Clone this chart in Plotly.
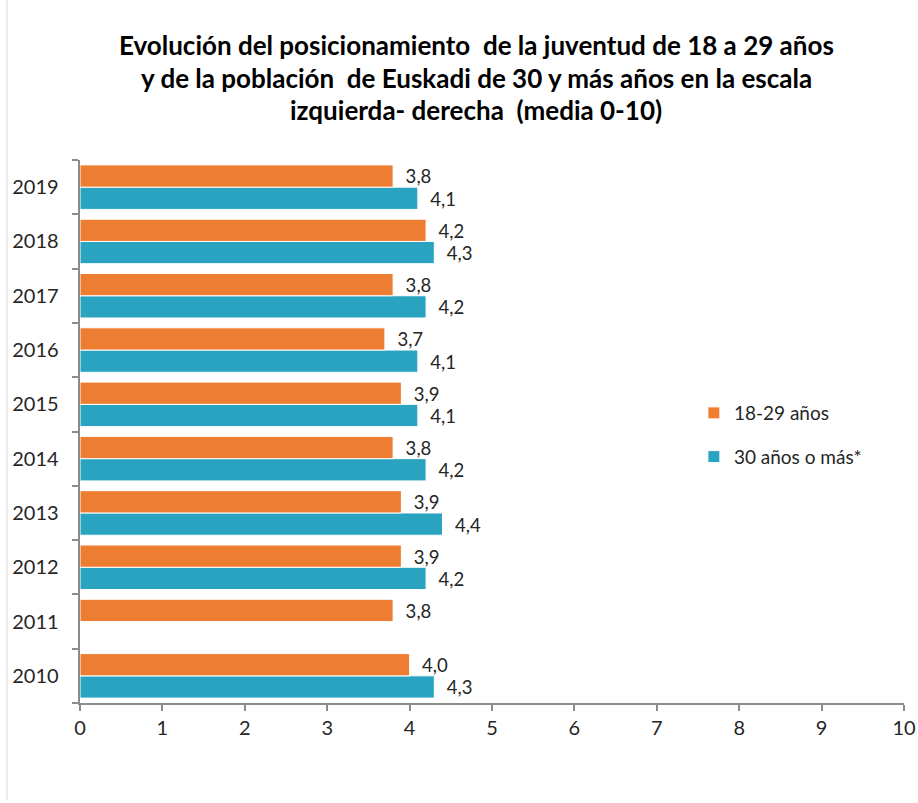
"""Left-right self-placement of youth vs. adults in Euskadi, horizontal bar chart."""

import plotly.graph_objects as go

years = ["2010", "2011", "2012", "2013", "2014", "2015", "2016", "2017", "2018", "2019"]
youth_18_29 = [4.0, 3.8, 3.9, 3.9, 3.8, 3.9, 3.7, 3.8, 4.2, 3.8]
adults_30_plus = [4.3, None, 4.2, 4.4, 4.2, 4.1, 4.1, 4.2, 4.3, 4.1]
x_ticks = list(range(0, 11))

title_lines = [
    "Evolución del posicionamiento  de la juventud de 18 a 29 años",
    "y de la población  de Euskadi de 30 y más años en la escala",
    "izquierda- derecha  (media 0-10)",
]

ORANGE = "#ED7D31"
TEAL = "#29A3C0"
AXIS_GREY = "#8C8C8C"
FONT = "Lato, 'Open Sans', sans-serif"

fig = go.Figure()

# horizontal groups stack bottom-up, so the teal series goes in first
fig.add_trace(
    go.Bar(
        y=years,
        x=adults_30_plus,
        orientation="h",
        name="30 años o más*",
        legendgroup="adults",
        marker={"color": TEAL, "line": {"color": "white", "width": 1}},
        texttemplate="\u00a0\u00a0%{x:.1f}",
        textposition="outside",
        textfont={"size": 20, "color": "#262626", "family": FONT},
        cliponaxis=False,
        legendrank=2,
    )
)
fig.add_trace(
    go.Bar(
        y=years,
        x=youth_18_29,
        orientation="h",
        name="18-29 años",
        legendgroup="youth",
        marker={"color": ORANGE, "line": {"color": "white", "width": 1}},
        texttemplate="\u00a0\u00a0%{x:.1f}",
        textposition="outside",
        textfont={"size": 20, "color": "#262626", "family": FONT},
        cliponaxis=False,
        legendrank=1,
    )
)

# title as three lines to control the spacing
title_y = [1.212, 1.151, 1.092]
for line, ty in zip(title_lines, title_y):
    fig.add_annotation(
        text=f"<b>{line}</b>",
        xref="paper",
        yref="paper",
        x=0.481,
        y=ty,
        xanchor="center",
        yanchor="middle",
        showarrow=False,
        font={"size": 26, "color": "#000000", "family": FONT},
    )

# faint left edge of the chart frame
fig.add_shape(
    type="line",
    xref="paper",
    yref="paper",
    x0=-0.0886,
    x1=-0.0886,
    y0=1.3,
    y1=-0.179,
    line={"color": "#D9D9D9", "width": 1},
)

fig.update_layout(
    width=918,
    height=803,
    margin={"l": 80, "r": 14, "t": 160, "b": 100, "autoexpand": False},
    paper_bgcolor="white",
    plot_bgcolor="white",
    barmode="group",
    bargap=0.18,
    bargroupgap=0,
    separators=", ",
    font={"family": FONT, "size": 19, "color": "#262626"},
    showlegend=True,
    legend={
        "x": 0.745,
        "y": 0.569,
        "xanchor": "left",
        "yanchor": "top",
        "font": {"size": 19, "family": FONT, "color": "#262626"},
        "itemwidth": 30,
        "traceorder": "grouped",
        "tracegroupgap": 16,
        "bgcolor": "rgba(0,0,0,0)",
    },
    xaxis={
        "range": [0, 10],
        "tickvals": x_ticks,
        "showgrid": False,
        "zeroline": False,
        "showline": True,
        "linecolor": AXIS_GREY,
        "linewidth": 2,
        "ticks": "outside",
        "ticklen": 6,
        "tickwidth": 2,
        "tickcolor": AXIS_GREY,
        "tickfont": {"size": 20},
        "automargin": False,
    },
    yaxis={
        "type": "category",
        "categoryorder": "array",
        "categoryarray": years,
        "range": [-0.5, 9.5],
        "showgrid": False,
        "showline": True,
        "linecolor": AXIS_GREY,
        "linewidth": 2,
        "ticks": "outside",
        "tickson": "boundaries",
        "ticklen": 6,
        "tickwidth": 2,
        "tickcolor": AXIS_GREY,
        "tickfont": {"size": 20},
        "ticksuffix": "   ",
        "automargin": False,
    },
)

# drop the default body margin so the figure sits at the window's corner
fig.write_html(
    "out.html",
    config={"displayModeBar": False},
    post_script="document.body.style.margin = '0';",
)
